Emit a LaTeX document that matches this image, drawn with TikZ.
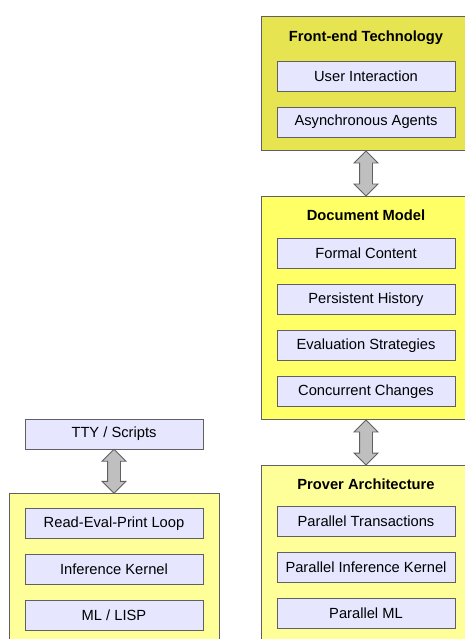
\documentclass[tikz,border=0pt]{standalone}
\usepackage{fontspec}
\setmainfont{Liberation Sans}
\usetikzlibrary{positioning, shapes.arrows}

\definecolor{frontfill}{RGB}{230,228,80}
\definecolor{docfill}{RGB}{255,255,102}
\definecolor{proverfill}{RGB}{255,255,153}
\definecolor{itemfill}{RGB}{230,230,255}
\definecolor{edge}{RGB}{96,96,100}

\begin{document}
\begin{tikzpicture}[
    x=1pt, y=1pt,
    every node/.style = {font=\fontsize{14.7}{17}\selectfont},
    panel/.style = {rectangle, draw=edge, line width=1pt, minimum width=210pt, anchor=north},
    heading/.style = {inner sep=0pt, font=\fontsize{14.7}{17}\selectfont\bfseries},
    item/.style = {rectangle, draw=edge, line width=1pt, fill=itemfill, minimum width=178pt, minimum height=30pt, inner sep=0pt},
    updown/.style = {double arrow, draw=edge, fill=black!25, line width=0.8pt, shape border rotate=90,
        minimum height=45pt, inner xsep=6pt, inner ysep=0pt, double arrow head extend=5.5pt}
]
    \clip (0,0) rectangle (465,-639);

    % right column
    \node[panel, fill=frontfill, minimum height=134pt] (fe) at (366,-16) {};
    \node[panel, fill=docfill, minimum height=223pt, below=45pt of fe] (dm) {};
    \node[panel, fill=proverfill, minimum height=190pt, below=45pt of dm] (pa) {};

    \node[heading, below=14.5pt of fe.north] (fet) {Front-end Technology};
    \node[item, below=16pt of fet] (ui) {User Interaction};
    \node[item, below=15pt of ui] (aa) {Asynchronous Agents};

    \node[heading, below=14pt of dm.north] (dmt) {Document Model};
    \node[item, below=17pt of dmt] (fc) {Formal Content};
    \node[item, below=15pt of fc] (ph) {Persistent History};
    \node[item, below=15pt of ph] (es) {Evaluation Strategies};
    \node[item, below=15pt of es] (cc) {Concurrent Changes};

    \node[heading, below=14pt of pa.north] (pat) {Prover Architecture};
    \node[item, below=16pt of pat] (pt) {Parallel Transactions};
    \node[item, below=15pt of pt] (pik) {Parallel Inference Kernel};
    \node[item, below=15pt of pik] (pml) {Parallel ML};

    % left column
    \node[item] (tty) at (114,-434) {TTY / Scripts};
    \node[panel, fill=proverfill, minimum height=160pt] (lp) at (114,-493) {};
    \node[item, below=15pt of lp.north] (repl) {Read-Eval-Print Loop};
    \node[item, below=15pt of repl] (ik) {Inference Kernel};
    \node[item, below=15pt of ik] (ml) {ML / LISP};

    % connectors
    \path (fe.south) -- node[updown] {} (dm.north);
    \path (dm.south) -- node[updown] {} (pa.north);
    \path (tty.south) -- node[updown, minimum height=44pt] {} (lp.north);
\end{tikzpicture}
\end{document}
